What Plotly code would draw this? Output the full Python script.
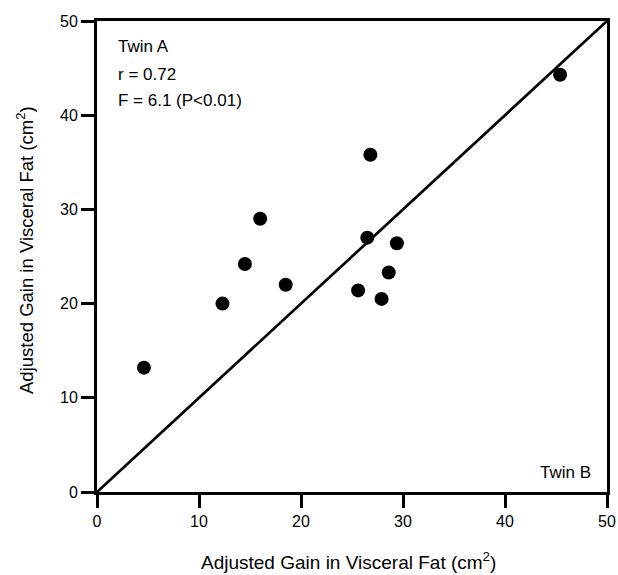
import plotly.graph_objects as go

twin_b = [4.6, 12.3, 14.5, 16.0, 18.5, 25.6, 26.5, 26.8, 27.9, 28.6, 29.4, 45.4]
twin_a = [13.2, 20.0, 24.2, 29.0, 22.0, 21.4, 27.0, 35.8, 20.5, 23.3, 26.4, 44.3]
identity = [0, 50]
ticks = [0, 10, 20, 30, 40, 50]

font_family = "Liberation Sans, Arial, Helvetica, sans-serif"

fig = go.Figure()
fig.add_trace(go.Scatter(x=identity, y=identity, mode="lines",
                         line=dict(color="black", width=2.7), showlegend=False,
                         cliponaxis=False))
fig.add_trace(go.Scatter(x=twin_b, y=twin_a, mode="markers",
                         marker=dict(color="black", size=14), showlegend=False))

axis_common = dict(range=[0, 50], tickvals=ticks, showgrid=False, zeroline=False,
                   showline=True, linecolor="black", linewidth=3, mirror=True,
                   ticks="outside", ticklen=13, tickwidth=2.5, tickcolor="black",
                   automargin=False,
                   tickfont=dict(size=16, color="black", family=font_family))

fig.update_xaxes(**axis_common)
fig.update_yaxes(**axis_common)

title_text = "Adjusted Gain in Visceral Fat (cm<sup>2</sup>)"
fig.add_annotation(x=0.494, y=-0.147, xref="paper", yref="paper", text=title_text,
                   showarrow=False, xanchor="center", yanchor="middle",
                   font=dict(size=19, color="black", family=font_family))
fig.add_annotation(x=-0.141, y=0.514, xref="paper", yref="paper", text=title_text,
                   showarrow=False, xanchor="center", yanchor="middle", textangle=-90,
                   font=dict(size=18.5, color="black", family=font_family))

ann_font = dict(size=17, color="black", family=font_family)
fig.add_annotation(x=0.037, y=0.945, xref="paper", yref="paper", text="Twin A",
                   showarrow=False, xanchor="left", yanchor="middle", font=ann_font)
fig.add_annotation(x=0.037, y=0.887, xref="paper", yref="paper", text="r = 0.72",
                   showarrow=False, xanchor="left", yanchor="middle", font=ann_font)
fig.add_annotation(x=0.037, y=0.832, xref="paper", yref="paper", text="F = 6.1 (P<0.01)",
                   showarrow=False, xanchor="left", yanchor="middle", font=ann_font)
fig.add_annotation(x=0.9725, y=0.042, xref="paper", yref="paper", text="Twin B",
                   showarrow=False, xanchor="right", yanchor="middle", font=ann_font)

fig.update_layout(width=618, height=575, plot_bgcolor="white", paper_bgcolor="white",
                  margin=dict(l=97, r=11, t=21, b=83),
                  font=dict(family=font_family, color="black"))

fig.write_html("out.html",
               config={"displayModeBar": False},
               post_script="document.body.style.margin='0';"
                           "document.documentElement.style.overflow='hidden';")
